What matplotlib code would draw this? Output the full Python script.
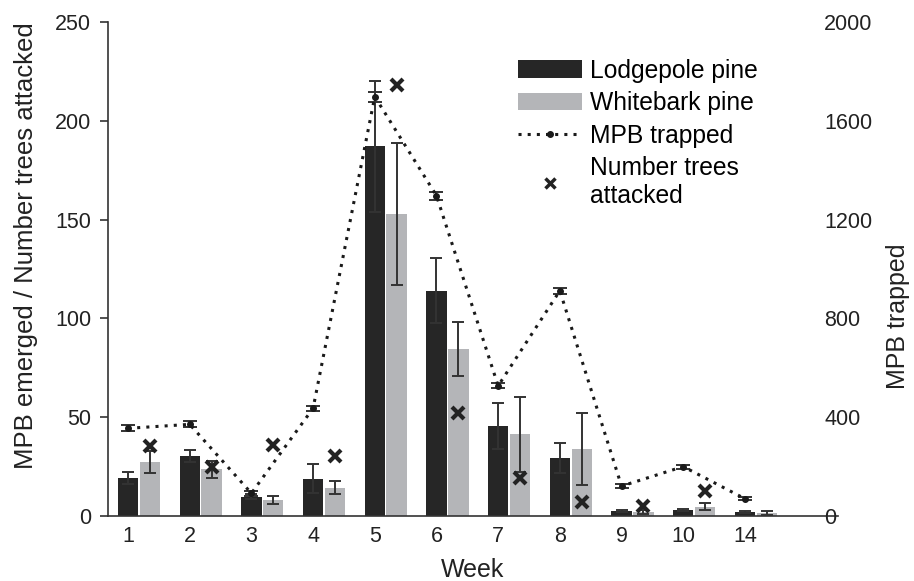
import numpy as np
from matplotlib import pyplot as plt
from matplotlib.patches import Patch
from matplotlib.lines import Line2D

plt.rcParams['font.family'] = ['Liberation Sans', 'DejaVu Sans']

weeks = ['1', '2', '3', '4', '5', '6', '7', '8', '9', '10', '14']
lodgepole = [19.4, 30.4, 9.8, 18.9, 187.0, 114.0, 45.7, 29.5, 2.5, 2.9, 1.9]
lodgepole_err = [3.0, 2.9, 1.3, 7.3, 33.0, 16.4, 11.6, 7.6, 0.5, 0.4, 0.4]
whitebark = [27.2, 23.6, 8.1, 14.3, 152.7, 84.4, 41.3, 33.9, 2.2, 4.6, 1.4]
whitebark_err = [5.5, 4.2, 1.8, 3.4, 36.0, 13.7, 18.8, 18.0, 1.0, 1.8, 1.0]
trees_attacked = [35.6, 25.0, 35.9, 30.5, 218.0, 52.0, 19.1, 7.1, 5.1, 12.8, np.nan]
mpb_trapped = [355, 371, 92, 436, 1698, 1297, 527, 912, 121, 200, 70]
mpb_trapped_err = [12, 12, 10, 10, 20, 16, 10, 12, 8, 8, 6]

x = np.arange(len(weeks))
w = 0.33
off = 0.355

fig = plt.figure(figsize=(9.14, 5.81), dpi=100)
ax = fig.add_axes([0.1182, 0.1119, 0.7987, 0.8502])
ax2 = ax.twinx()

ekw = dict(ecolor='#333333', elinewidth=1.4, capsize=4, capthick=1.4)
ax.bar(x, lodgepole, w, color='#262626', yerr=lodgepole_err, error_kw=ekw, zorder=2)
ax.bar(x + off, whitebark, w, color='#b4b5b8', yerr=whitebark_err, error_kw=ekw, zorder=2)
ax.plot(x + off, trees_attacked, 'x', color='#222222', ms=8, mew=3, zorder=5)

ax2.errorbar(x, mpb_trapped, yerr=mpb_trapped_err, color='#1a1a1a', ls=(0, (1, 2)),
             lw=2.2, marker='o', ms=4, ecolor='#333333', elinewidth=1.4, capsize=5,
             capthick=1.4)

ax.set_xlim(-0.324, 11.51)
ax.set_ylim(0, 250)
ax2.set_ylim(0, 2000)
ax.set_yticks([0, 50, 100, 150, 200, 250])
ax2.set_yticks([0, 400, 800, 1200, 1600, 2000])
ax.set_xticks(x)
ax.set_xticklabels(weeks)

for s in ['top', 'right']:
    ax.spines[s].set_visible(False)
for s in ['top', 'right', 'left', 'bottom']:
    ax2.spines[s].set_visible(False)
ax.spines['left'].set_color('#333333')
ax.spines['bottom'].set_color('#333333')
ax.spines['left'].set_linewidth(1.2)
ax.spines['bottom'].set_linewidth(1.2)

ax.tick_params(axis='y', labelsize=15.5, length=6, width=1.2, color='#333333', pad=6, labelcolor='#222222')
ax.tick_params(axis='x', labelsize=15.5, length=0, pad=7, labelcolor='#222222')
ax2.tick_params(axis='y', labelsize=15.5, length=0, pad=-10, labelcolor='#222222')

ax.set_xlabel('Week', fontsize=18, color='#222222', labelpad=8)
ax.set_ylabel('MPB emerged / Number trees attacked', fontsize=18.5, color='#222222')
ax2.set_ylabel('MPB trapped', fontsize=18, color='#222222')
ax.yaxis.set_label_coords(-0.096, 0.547)
ax2.yaxis.set_label_coords(1.066, 0.405)

handles = [
    Patch(facecolor='#262626'),
    Patch(facecolor='#b4b5b8'),
    Line2D([], [], color='#1a1a1a', ls=(0, (1, 2)), lw=2.2, marker='o', ms=4),
    Line2D([], [], color='#222222', ls='none', marker='x', ms=7, mew=2.5),
]
labels = ['Lodgepole pine', 'Whitebark pine', 'MPB trapped', 'Number trees\nattacked']
ax2.legend(handles, labels, loc='upper left', bbox_to_anchor=(0.548, 0.946),
           frameon=False, fontsize=17.7, handlelength=2.6, handleheight=0.7,
           handletextpad=0.35, labelspacing=0.35, borderaxespad=0)

plt.savefig('out.png', dpi=100)
plt.close()
